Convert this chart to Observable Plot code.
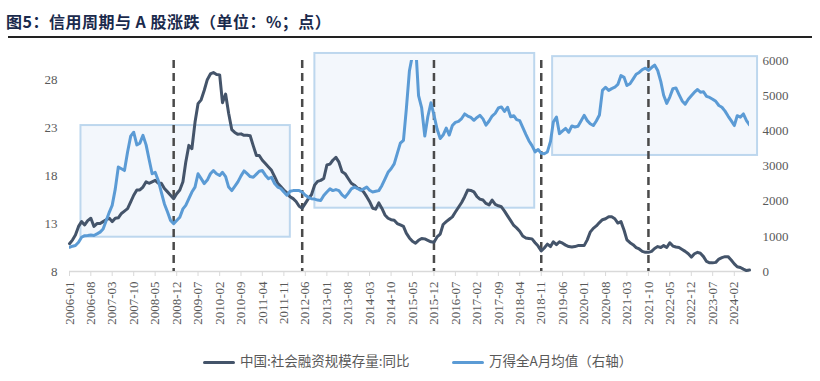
<!DOCTYPE html>
<html><head><meta charset="utf-8">
<script src="https://cdn.jsdelivr.net/npm/d3@7"></script>
<script src="https://cdn.jsdelivr.net/npm/@observablehq/plot@0.6"></script>
<style>
body{margin:0;background:#fff;width:820px;height:381px;overflow:hidden;position:relative;font-family:"Noto Sans CJK SC",sans-serif}
#title{position:absolute;left:6px;top:9px;font-size:16px;font-weight:bold;color:#1a2a4c;white-space:nowrap;letter-spacing:0.5px}
#rule{position:absolute;left:8px;width:804px;top:36px;height:2px;background:#222}
#chart{position:absolute;left:0;top:40px}
#chart svg text{font-family:"Liberation Serif","Times New Roman",serif !important}
.lg{position:absolute;top:350px;font-size:13.5px;color:#595959;white-space:nowrap;line-height:20px}
.sw{display:inline-block;width:32px;height:3.5px;vertical-align:middle;margin-right:5px;border-radius:2px}
</style></head>
<body>
<div id="title">图5：信用周期与 A 股涨跌（单位：%；点）</div>
<div id="rule"></div>
<div id="chart"></div>
<div class="lg" style="left:203px"><span class="sw" style="background:#44546a"></span>中国:社会融资规模存量:同比</div>
<div class="lg" style="left:452px"><span class="sw" style="background:#5b9bd5"></span>万得全A月均值（右轴）</div>
<script>
const startMonth = "2006-01";
const credit = [
10.9,11.3,11.8,12.7,13.2,12.85,13.3,13.55,12.7,13.0,
13.0,13.2,13.4,13.55,13.2,13.55,13.6,14.05,14.3,14.55,
15.25,15.95,16.5,16.5,16.8,17.35,17.2,17.35,17.5,17.2,
17.2,16.65,16.3,15.95,15.6,16.1,16.5,17.35,19.4,21.15,
20.8,23.55,25.5,25.9,26.9,28.0,28.6,28.75,28.55,28.5,
25.6,26.5,24.5,22.8,22.5,22.3,22.35,22.2,22.2,22.15,
21.1,20.1,20.1,19.6,19.25,18.9,18.55,17.9,17.2,16.85,
16.5,16.2,15.8,15.6,15.3,14.8,14.6,15.1,15.6,16.0,
17.0,17.4,17.5,17.7,19.1,19.2,19.6,19.9,19.4,18.4,
18.2,17.7,17.2,17.0,16.7,16.6,16.3,15.8,15.3,14.6,
14.5,15.15,14.6,13.9,13.55,13.4,13.35,13.0,12.85,12.7,
12.0,11.5,11.15,10.95,11.25,11.45,11.4,11.25,11.1,11.05,
11.6,11.9,12.9,13.2,13.45,13.7,14.2,14.7,15.2,15.8,
16.5,16.45,16.3,15.8,15.55,15.45,15.1,14.95,15.45,15.0,
14.85,14.75,14.3,13.8,13.3,12.8,12.55,12.2,11.7,11.5,
11.45,11.4,11.0,10.65,10.15,10.45,10.85,10.6,11.1,10.8,
11.1,10.95,10.75,10.6,10.55,10.6,10.7,10.7,10.7,11.3,
12.1,12.5,12.75,13.1,13.4,13.5,13.7,13.7,13.5,13.05,
13.2,12.3,11.3,11.0,10.8,10.5,10.35,10.1,10.0,10.0,
10.1,10.4,10.6,10.5,10.7,10.5,11.0,10.65,10.55,10.5,
10.3,10.1,9.85,9.5,9.85,10.0,9.9,9.55,9.05,8.9,
8.9,8.95,9.3,9.45,9.55,9.55,9.2,8.8,8.5,8.42,
8.25,8.1,8.15];
const windA = [
690,720,740,830,975,1020,1025,1040,1025,1070,
1120,1210,1450,1690,1880,2350,2970,2920,2870,3400,
3850,3960,3600,3650,3870,3600,3200,2780,2820,2590,
2260,1920,1690,1450,1360,1450,1545,1780,1880,2070,
2260,2400,2780,2640,2500,2600,2780,2870,2780,2730,
2820,2700,2400,2300,2420,2550,2720,2860,2780,2700,
2680,2770,2850,2870,2740,2640,2680,2500,2400,2360,
2260,2170,2280,2300,2300,2300,2260,2170,2110,2070,
2060,2030,2020,2160,2260,2350,2300,2330,2300,2180,
2110,2220,2350,2400,2360,2310,2350,2400,2310,2260,
2280,2300,2440,2630,2820,2920,3060,3350,3650,3730,
4600,5700,6150,6500,5000,4650,3850,4400,4800,4450,
4050,3780,3880,4080,3880,4150,4240,4270,4350,4480,
4420,4380,4300,4380,4440,4340,4160,4280,4420,4500,
4650,4680,4550,4670,4400,4430,4320,4290,4100,3900,
3720,3580,3400,3470,3360,3350,3400,3700,4250,4390,
3920,4000,4070,3960,4140,4110,4130,4280,4440,4290,
4200,4150,4280,4450,5150,5240,5150,5200,5240,5320,
5570,5520,5290,5340,5470,5610,5660,5740,5780,5720,
5800,5870,5715,5400,5010,4780,4960,5200,5220,5030,
4850,4760,4900,5000,5100,5175,5100,5110,4980,4950,
4900,4840,4720,4672,4560,4420,4290,4150,4430,4390,
4480,4290,4170];
const xTickLabels = ["2006-01","2006-08","2007-03","2007-10","2008-05","2008-12","2009-07","2010-02","2010-09","2011-04","2011-11","2012-06","2013-01","2013-08","2014-03","2014-10","2015-05","2015-12","2016-07","2017-02","2017-09","2018-04","2018-11","2019-06","2020-01","2020-08","2021-03","2021-10","2022-05","2022-12","2023-07","2024-02"];
const leftTicks = [8,13,18,23,28];
const rightTicks = [0,1000,2000,3000,4000,5000,6000];
const cycleTurns = ["2008-11","2012-05","2015-12","2018-11","2021-10"];
const boxStart = ["2006-04-25","2012-09-04","2019-02-22"];
const boxEnd = ["2012-01-04","2018-08-28","2024-09-19"];
const boxLow = [975,1800,3300];
const boxHigh = [4150,6200,6110];

const leftMin = 8, leftMax = 30, rightMax = 6000;
const toRight = v => (v - leftMin) * rightMax / (leftMax - leftMin);
const parseM = d3.utcParse("%Y-%m");
const parseD = d3.utcParse("%Y-%m-%d");
const t0 = parseM(startMonth);
const rows = credit.map((c, i) => ({date: d3.utcMonth.offset(t0, i), credit: toRight(c), wind: windA[i]}));
const boxes = boxStart.map((s, i) => ({x1: parseD(s), x2: parseD(boxEnd[i]), y1: boxLow[i], y2: boxHigh[i]}));
const fmt = d3.utcFormat("%Y-%m");
const serif = "Liberation Serif";

const chart = Plot.plot({
  width: 820, height: 300,
  marginLeft: 69, marginRight: 71, marginTop: 20, marginBottom: 69,
  style: {fontSize: "13px", color: "#595959", background: "white"},
  x: {type: "utc", domain: [t0, rows[rows.length - 1].date]},
  y: {domain: [0, rightMax]},
  marks: [
    Plot.rect(boxes, {x1: "x1", x2: "x2", y1: "y1", y2: "y2", fill: "#f3f7fc", stroke: "#bdd7ee", strokeWidth: 2}),
    Plot.ruleY([0], {stroke: "#d9d9d9", strokeWidth: 1.5}),
    Plot.axisX(xTickLabels.map(parseM), {tickFormat: fmt, tickRotate: -90, tickSize: 5, tickPadding: 5, stroke: "#d9d9d9", fill: "#595959", fontSize: 13, fontFamily: serif, label: null}),
    Plot.axisY(leftTicks.map(toRight), {anchor: "left", tickSize: 0, tickPadding: 12, tickFormat: d => String(Math.round(d * (leftMax - leftMin) / rightMax + leftMin)), fill: "#595959", fontSize: 13, fontFamily: serif, label: null}),
    Plot.axisY(rightTicks, {anchor: "right", tickSize: 0, tickPadding: 13, tickFormat: d => String(d), fill: "#595959", fontSize: 13, fontFamily: serif, label: null}),
    Plot.ruleX(cycleTurns.map(parseM), {stroke: "#4a4a4a", strokeWidth: 2.5, strokeDasharray: "8,5"}),
    Plot.lineY(rows, {x: "date", y: "credit", stroke: "#44546a", strokeWidth: 3}),
    Plot.lineY(rows, {x: "date", y: "wind", stroke: "#5b9bd5", strokeWidth: 3, clip: true})
  ]
});
document.getElementById("chart").appendChild(chart);
</script>
</body></html>
